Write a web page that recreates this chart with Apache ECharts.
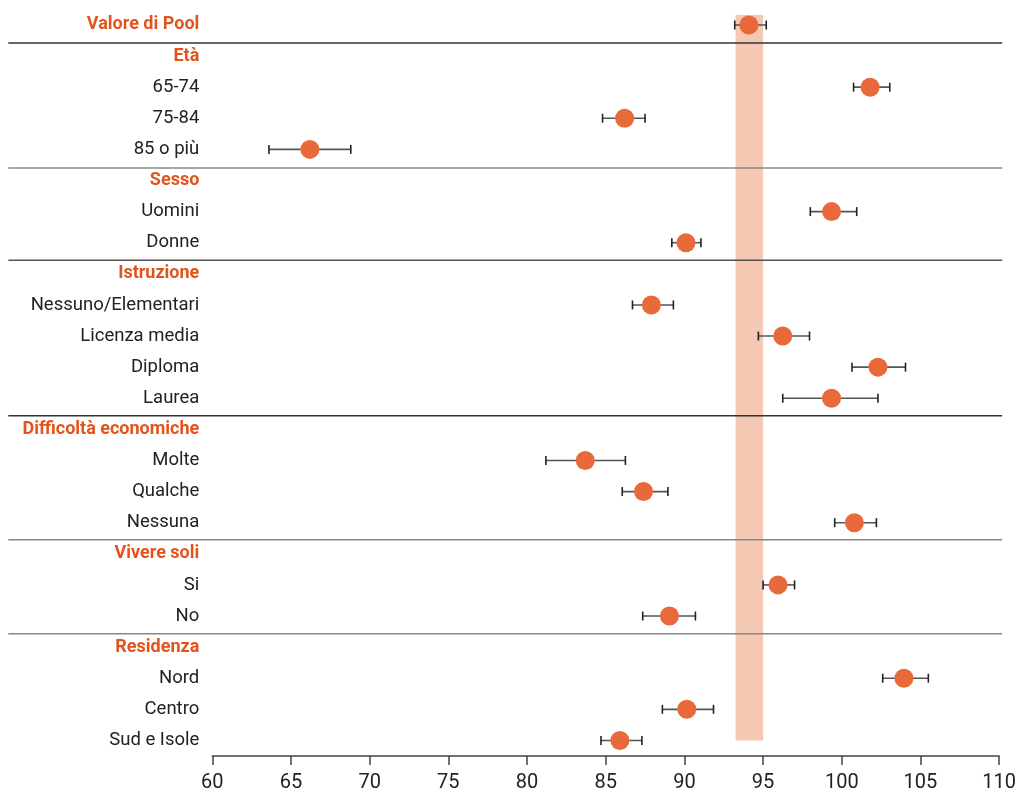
<!DOCTYPE html>
<html>
<head>
<meta charset="utf-8">
<script src="https://cdn.jsdelivr.net/npm/echarts@6/dist/echarts.min.js"></script>
<style>
html,body{margin:0;padding:0;background:#fff;}
#chart{width:1019px;height:793px;}
</style>
</head>
<body>
<div id="chart"></div>
<script>
// ---- data ----
const categories = ['Valore di Pool','Età','65-74','75-84','85 o più','Sesso','Uomini','Donne','Istruzione','Nessuno/Elementari','Licenza media','Diploma','Laurea','Difficoltà economiche','Molte','Qualche','Nessuna','Vivere soli','Si','No','Residenza','Nord','Centro','Sud e Isole'];
const headers = ['Valore di Pool','Età','Sesso','Istruzione','Difficoltà economiche','Vivere soli','Residenza'];
const pointNames = ['Valore di Pool','65-74','75-84','85 o più','Uomini','Donne','Nessuno/Elementari','Licenza media','Diploma','Laurea','Molte','Qualche','Nessuna','Si','No','Nord','Centro','Sud e Isole'];
const estimates = [94.1, 101.8, 86.2, 66.2, 99.35, 90.1, 87.9, 96.25, 102.3, 99.35, 83.7, 87.4, 100.8, 95.95, 89.05, 103.95, 90.15, 85.9];
const lower     = [93.2, 100.75, 84.8, 63.6, 98.0, 89.2, 86.7, 94.7, 100.65, 96.25, 81.2, 86.05, 99.55, 95.0, 87.35, 102.6, 88.6, 84.7];
const upper     = [95.2, 103.05, 87.5, 68.8, 100.95, 91.05, 89.3, 97.95, 104.05, 102.3, 86.25, 88.95, 102.2, 97.0, 90.7, 105.5, 91.85, 87.3];
const poolBand = [93.25, 95.0];
const separators = [0.58, 4.6, 7.56, 12.56, 16.55, 19.57];
const separatorColors = ['#333','#888','#555','#333','#888','#888'];
const xMin = 60, xMax = 110, xStep = 5;

// ---- build ----
const idx = n => categories.indexOf(n);
const pointData = pointNames.map((n,i)=>[estimates[i], idx(n)]);
const errData = pointNames.map((n,i)=>[lower[i], upper[i], idx(n)]);
const ORANGE_H = '#E5531D';
const DOT = '#E8693A';

const chart = echarts.init(document.getElementById('chart'));
chart.setOption({
  animation:false,
  grid:{left:212.3, right:18.7, top:9.4, bottom:35.7},
  xAxis:{type:'value', min:xMin, max:xMax, interval:xStep,
    axisLine:{show:true, onZero:false, lineStyle:{color:'#444', width:1.5}},
    axisTick:{show:true, length:9, inside:false, lineStyle:{color:'#444', width:1.5}},
    axisLabel:{color:'#222', fontSize:20, fontFamily:'Roboto', margin:17},
    splitLine:{show:false}},
  yAxis:[
    {type:'category', data:categories, inverse:true, boundaryGap:true,
      axisLine:{show:false}, axisTick:{show:false}, splitLine:{show:false},
      axisLabel:{margin:13, interval:0,
        formatter:v => headers.includes(v) ? '{h|'+v+'}' : '{n|'+v+'}',
        rich:{
          h:{color:ORANGE_H, fontWeight:'bold', fontSize:18, fontFamily:'Roboto'},
          n:{color:'#222', fontSize:18.5, fontFamily:'Roboto'}
        }}},
    {type:'value', min:-0.5, max:23.5, inverse:true, show:false}
  ],
  series:[
    {type:'custom', yAxisIndex:1, z:1,
      data:[[poolBand[0], poolBand[1]]],
      renderItem:(p, api)=>{
        const a = api.coord([api.value(0), -0.32]);
        const b = api.coord([api.value(1), 23]);
        return {type:'rect', shape:{x:a[0], y:a[1], width:b[0]-a[0], height:b[1]-a[1]}, style:{fill:'#F5C8B4'}};
      }},
    {type:'custom', yAxisIndex:1, z:2, clip:false,
      data:separators.map((s,i)=>[s,i]),
      renderItem:(p, api)=>{
        const cs = p.coordSys;
        const y = api.coord([xMin, api.value(0)])[1];
        return {type:'line', shape:{x1:cs.x-204, y1:y, x2:cs.x+cs.width+3, y2:y},
          style:{stroke:separatorColors[api.value(1)], lineWidth:1.5}};
      }},
    {type:'custom', yAxisIndex:1, z:3,
      data:errData,
      renderItem:(p, api)=>{
        const a = api.coord([api.value(0), api.value(2)]);
        const b = api.coord([api.value(1), api.value(2)]);
        const h = 4.5;
        return {type:'group', children:[
          {type:'line', shape:{x1:a[0], y1:a[1], x2:b[0], y2:b[1]}, style:{stroke:'#555', lineWidth:1.6}},
          {type:'line', shape:{x1:a[0], y1:a[1]-h, x2:a[0], y2:a[1]+h}, style:{stroke:'#222', lineWidth:1.6}},
          {type:'line', shape:{x1:b[0], y1:b[1]-h, x2:b[0], y2:b[1]+h}, style:{stroke:'#222', lineWidth:1.6}}
        ]};
      }},
    {type:'scatter', yAxisIndex:1, z:4, data:pointData, symbol:'circle', symbolSize:19,
      itemStyle:{color:DOT, opacity:1}}
  ]
});
</script>
</body>
</html>
